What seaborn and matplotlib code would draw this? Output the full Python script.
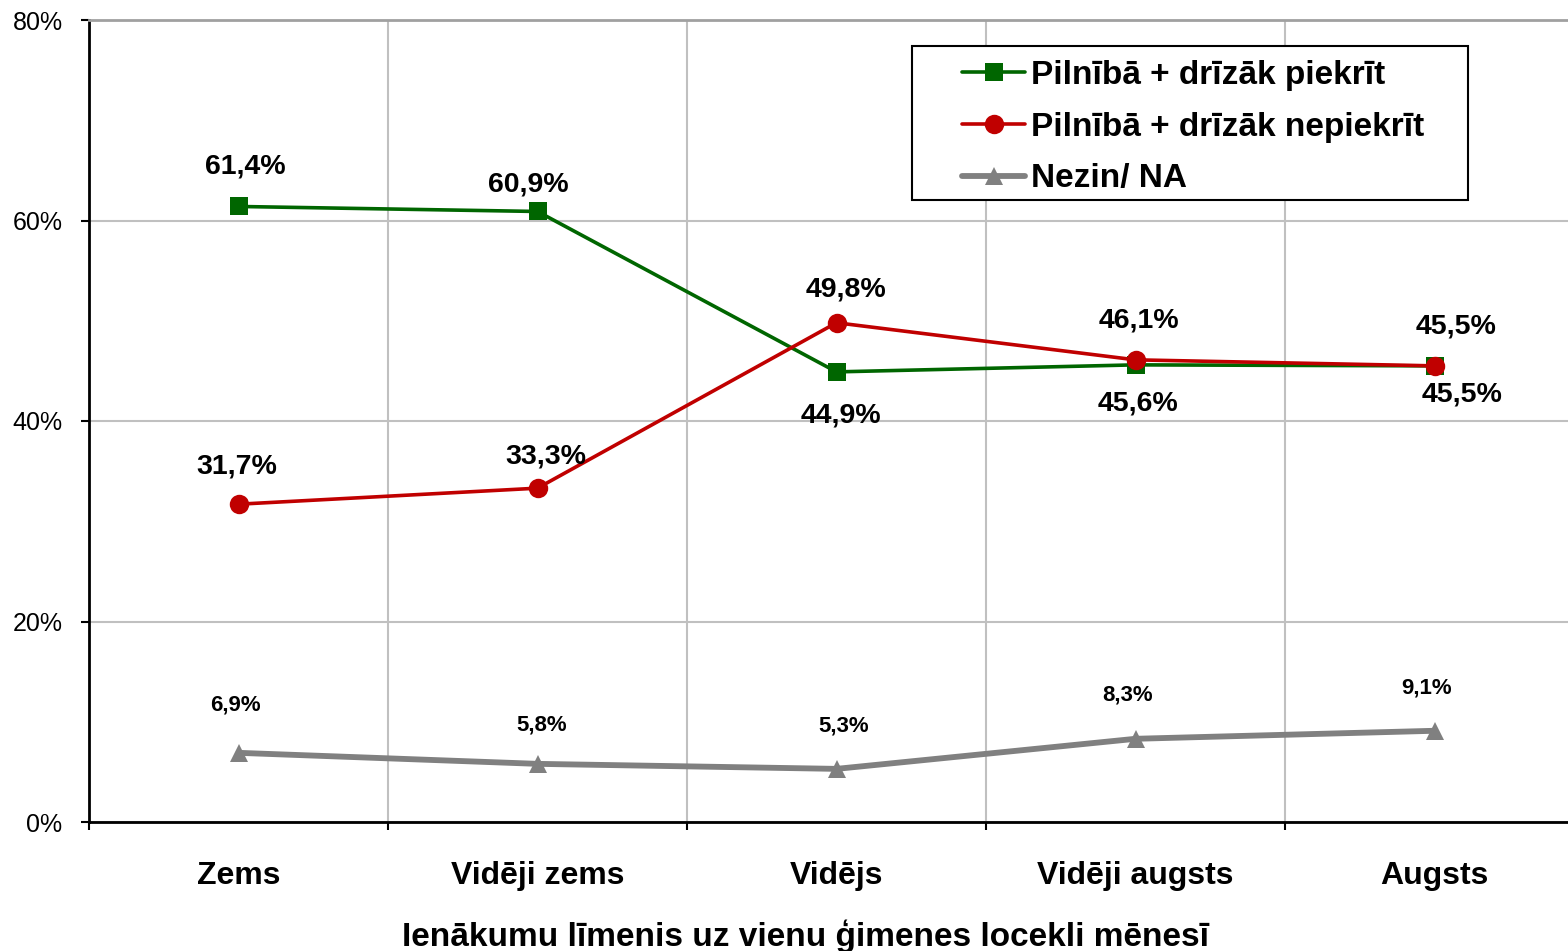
import numpy as np
import pandas as pd
import seaborn as sns
import matplotlib.pyplot as plt
from matplotlib.patches import Rectangle
from matplotlib.ticker import FixedLocator, PercentFormatter

categories = ["Zems", "Vidēji zems", "Vidējs", "Vidēji augsts", "Augsts"]
agree = [61.4, 60.9, 44.9, 45.6, 45.5]
disagree = [31.7, 33.3, 49.8, 46.1, 45.5]
dont_know = [6.9, 5.8, 5.3, 8.3, 9.1]

series_names = ["Pilnībā + drīzāk piekrīt", "Pilnībā + drīzāk nepiekrīt", "Nezin/ NA"]

sns.set_theme(style="white", rc={"text.color": "black", "axes.labelcolor": "black",
                                 "xtick.color": "black", "ytick.color": "black"})
plt.rcParams['font.family'] = ['Liberation Sans', 'DejaVu Sans']

fig = plt.figure(figsize=(15.68, 9.51), dpi=100)
ax = fig.add_axes([89 / 1568, 129 / 951, 1495 / 1568, 802 / 951])

pos = np.arange(len(categories))

# label offsets in pixels (dx, dy) for each point
off_agree = [(7, 40), (-9, 27), (4, -44), (2, -39), (28, -29)]
off_disagree = [(-2, 38), (8, 32), (9, 33), (3, 39), (22, 39)]
off_dk = [(-3, 48), (4, 39), (7, 43), (-8, 44), (-8, 43)]

styles = [
    (agree, "#006600", "s", 2.6, 13, off_agree, 20.5),
    (disagree, "#c00000", "o", 2.6, 14, off_disagree, 20.5),
    (dont_know, "#808080", "^", 4.2, 13, off_dk, 16),
]

for name, (vals, col, mk, lw, ms, offs, fs) in zip(series_names, styles):
    df = pd.DataFrame({"pos": pos, "val": vals})
    sns.lineplot(data=df, x="pos", y="val", ax=ax, color=col, marker=mk,
                 linewidth=lw, markersize=ms, markeredgewidth=0, label=name)
    for x, v, (dx, dy) in zip(pos, vals, offs):
        ax.annotate(f"{v:.1f}%".replace('.', ','), (x, v), xytext=(dx, dy),
                    textcoords='offset pixels', ha='center', va='center',
                    fontsize=fs, fontweight='bold', color='black')

ax.set_xlim(-0.5, 4.5)
ax.set_ylim(0, 80)
ax.yaxis.set_major_locator(FixedLocator([0, 20, 40, 60, 80]))
ax.yaxis.set_major_formatter(PercentFormatter(decimals=0))

ax.set_xticks(np.arange(-0.5, 5.0, 1.0))
ax.set_xticklabels([])
ax.set_xticks(pos, minor=True)
ax.set_xticklabels(categories, minor=True, fontsize=23, fontweight='bold')
ax.tick_params(axis='x', which='minor', length=0, pad=28)
ax.tick_params(axis='x', which='major', direction='out', length=6, width=1.5,
               color='black', bottom=True)
ax.tick_params(axis='y', direction='out', length=6, width=1.5, color='black',
               left=True, labelsize=18, pad=13)

ax.grid(True, which='major', color='#c0c0c0', linewidth=1.5)
ax.set_axisbelow(True)

for s in ["left", "bottom"]:
    ax.spines[s].set_color("black")
    ax.spines[s].set_linewidth(2)
ax.spines["top"].set_color("#a0a0a0")
ax.spines["top"].set_linewidth(2)
ax.spines["right"].set_visible(False)

ax.set_ylabel("")
ax.set_xlabel("Ienākumu līmenis uz vienu ģimenes locekli mēnesī",
              fontsize=24, fontweight='bold')
ax.xaxis.set_label_coords(0.479, -0.122)

# legend box drawn separately so the side padding can be wider than the top/bottom
ax.add_patch(Rectangle(((912 - 89) / 1495, (822 - 200) / 802), (1468 - 912) / 1495,
                       154 / 802, transform=ax.transAxes, fill=True, facecolor='white',
                       edgecolor='black', linewidth=1.5, zorder=4, clip_on=False))
leg = ax.legend(loc='upper left', bbox_to_anchor=(0.584, 0.950), borderaxespad=0,
                borderpad=0, frameon=False, prop={'size': 24, 'weight': 'bold'},
                handlelength=1.9, handletextpad=0.18, labelspacing=0.62)
leg.set_zorder(5)

fig.savefig("out.png", dpi=100)
